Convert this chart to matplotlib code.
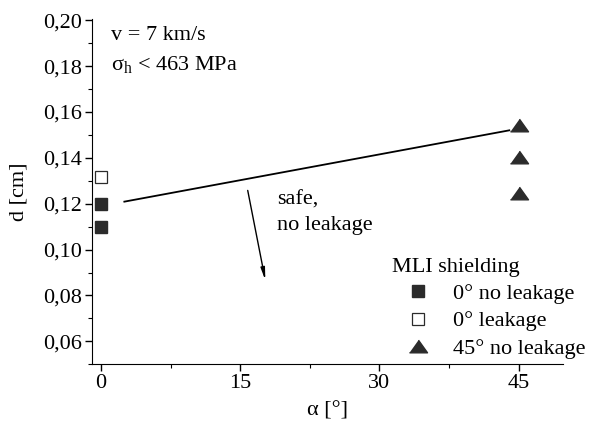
import numpy as np
import matplotlib
matplotlib.use('Agg')
import matplotlib.pyplot as plt
from matplotlib.ticker import FixedLocator, MultipleLocator, FuncFormatter

plt.rcParams['font.family'] = ['Liberation Serif', 'DejaVu Serif']
plt.rcParams['font.size'] = 16

# data
alpha_fill = [0, 0]
d_fill = [0.120, 0.110]
alpha_open = [0]
d_open = [0.1315]
alpha_tri = [45, 45, 45]
d_tri = [0.1543, 0.1404, 0.1248]
limit_alpha = [2.5, 44.0]
limit_d = [0.1209, 0.1520]
x_ticks = [0, 15, 30, 45]
y_ticks = [0.06, 0.08, 0.10, 0.12, 0.14, 0.16, 0.18, 0.20]

fig = plt.figure(figsize=(5.89, 4.25), dpi=100)
ax = fig.add_axes([0.156, 0.143, 0.80, 0.812])

ink = '#2b2b2b'
tri = [(-1, -0.7), (1, -0.7), (0, 0.7)]
ax.plot(alpha_fill, d_fill, 's', color=ink, ms=9, label='0° no leakage')
ax.plot(alpha_open, d_open, 's', mfc='white', mec=ink, mew=0.9, ms=9, label='0° leakage')
ax.plot(alpha_tri, d_tri, marker=tri, ls='none', color=ink, ms=13, label='45° no leakage')
ax.plot(limit_alpha, limit_d, '-', color='black', lw=1.3)

ax.annotate('', xy=(17.7, 0.0866), xytext=(15.8, 0.1258),
            arrowprops=dict(arrowstyle='-|>,head_length=0.7,head_width=0.12',
                            color='black', lw=1.0, mutation_scale=10,
                            shrinkA=0, shrinkB=0))
ax.text(19.0, 0.1217, 'safe,', ha='left', va='center')
ax.text(19.0, 0.1104, 'no leakage', ha='left', va='center')
ax.text(1.1, 0.1935, 'v = 7 km/s', ha='left', va='center')
ax.text(1.1, 0.1809, r'$\mathregular{\sigma_h}$ < 463 MPa', ha='left', va='center')

ax.set_xlim(-1, 49.8)
ax.set_ylim(0.05, 0.2005)
ax.xaxis.set_major_locator(FixedLocator(x_ticks))
ax.xaxis.set_minor_locator(MultipleLocator(7.5))
ax.yaxis.set_major_locator(FixedLocator(y_ticks))
ax.yaxis.set_minor_locator(MultipleLocator(0.01))
ax.yaxis.set_major_formatter(FuncFormatter(lambda v, p: ('%.2f' % v).replace('.', ',')))
ax.tick_params(which='major', direction='out', length=5, width=1, pad=2)
ax.tick_params(which='minor', direction='out', length=3, width=0.8)
for s in ['top', 'right']:
    ax.spines[s].set_visible(False)

ax.set_xlabel('α [°]', labelpad=6)
ax.set_ylabel('d [cm]', labelpad=11)

leg = ax.legend(title='MLI shielding', loc='upper left', frameon=False,
                bbox_to_anchor=(392 / 589, 1 - 258 / 425), bbox_transform=fig.transFigure,
                borderaxespad=0, borderpad=0, handlelength=2.34, handletextpad=0.4,
                labelspacing=0.3, alignment='left', title_fontsize=16)

fig.savefig('out.png', dpi=100)
